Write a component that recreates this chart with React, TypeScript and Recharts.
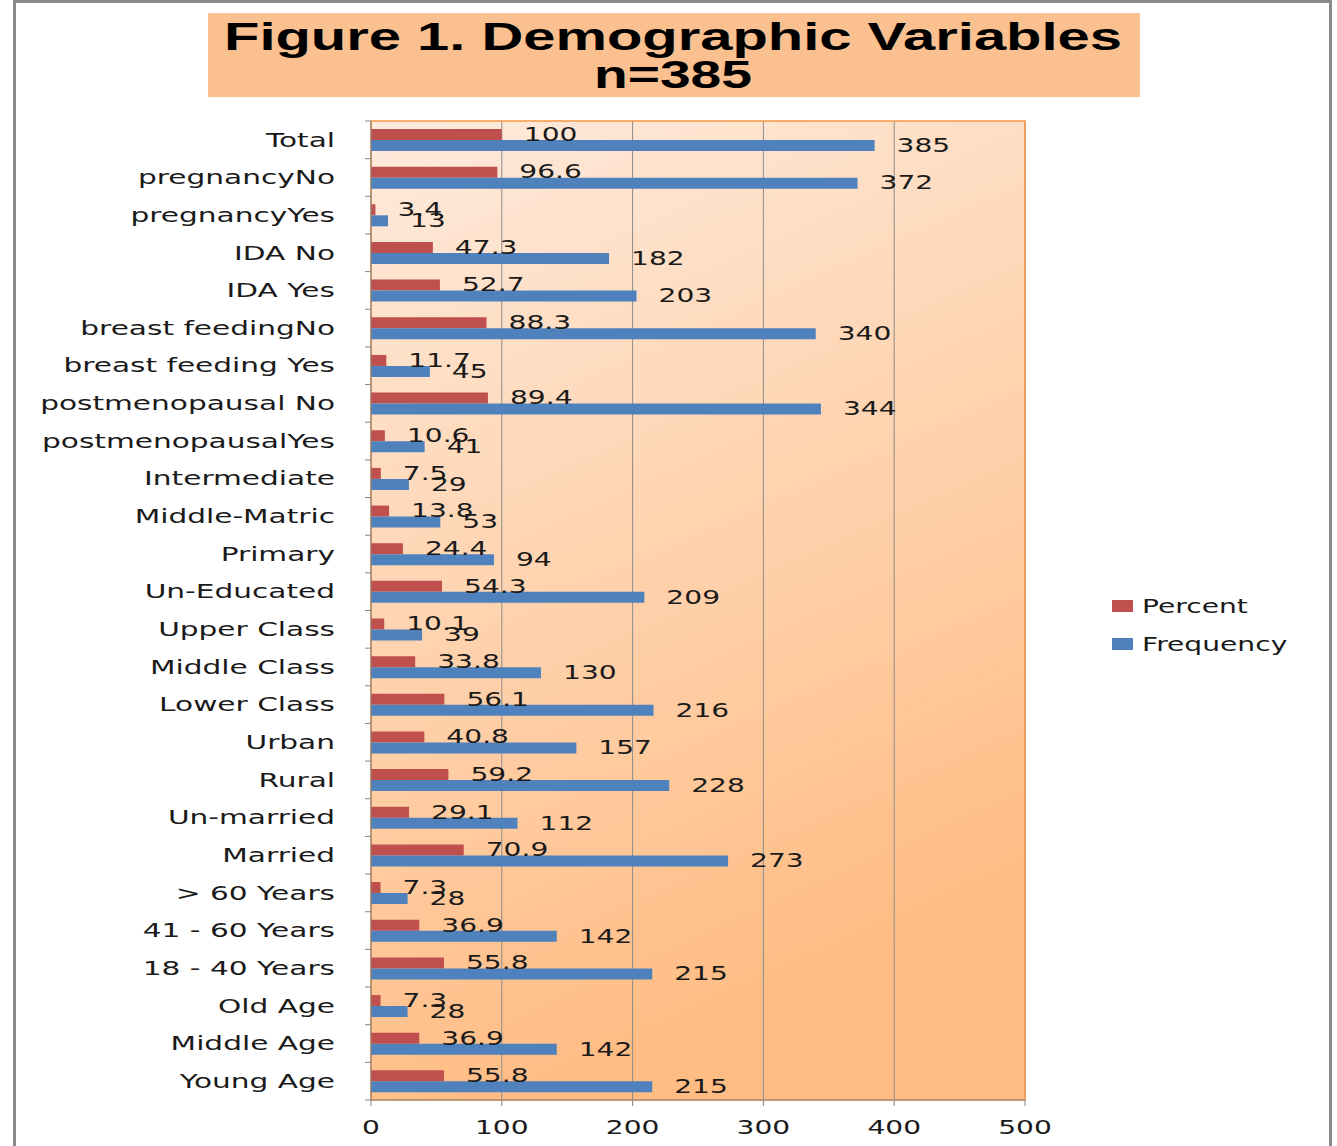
import React from 'react';
import { BarChart, Bar, XAxis, YAxis, CartesianGrid, Legend, LabelList, ReferenceArea } from 'recharts';

const categories = [
  'Total', 'pregnancyNo', 'pregnancyYes', 'IDA No', 'IDA Yes', 'breast feedingNo',
  'breast feeding  Yes', 'postmenopausal No', 'postmenopausalYes', 'Intermediate',
  'Middle-Matric', 'Primary', 'Un-Educated', 'Upper Class', 'Middle Class', 'Lower Class',
  'Urban', 'Rural', 'Un-married', 'Married', '> 60 Years', '41 - 60 Years', '18 - 40 Years',
  'Old Age', 'Middle Age', 'Young Age',
];
const percent = [
  100, 96.6, 3.4, 47.3, 52.7, 88.3, 11.7, 89.4, 10.6, 7.5, 13.8, 24.4, 54.3, 10.1, 33.8, 56.1,
  40.8, 59.2, 29.1, 70.9, 7.3, 36.9, 55.8, 7.3, 36.9, 55.8,
];
const frequency = [
  385, 372, 13, 182, 203, 340, 45, 344, 41, 29, 53, 94, 209, 39, 130, 216,
  157, 228, 112, 273, 28, 142, 215, 28, 142, 215,
];
const xTicks = [0, 100, 200, 300, 400, 500];
const legendOrder = ['Percent', 'Frequency'];

const data = categories.map((name, i) => ({ name, Percent: percent[i], Frequency: frequency[i] }));

const FONT = 'DejaVu Sans, Verdana, sans-serif';
const SX = 1.48;
const PLOT_TOP = 121;
const PLOT_BOTTOM = 1100;
const BAND = (PLOT_BOTTOM - PLOT_TOP) / categories.length;

const YTick = (props: any) => {
  const { x, y, payload, index } = props;
  const axisX = 371;
  return (
    <g>
      <line x1={axisX - 6} x2={axisX} y1={y - BAND / 2} y2={y - BAND / 2} stroke="#868686" />
      {index === categories.length - 1 && (
        <line x1={axisX - 6} x2={axisX} y1={y + BAND / 2} y2={y + BAND / 2} stroke="#868686" />
      )}
      <text
        transform={`translate(${x},${y}) scale(${SX},1)`}
        textAnchor="end"
        dominantBaseline="central"
        fontFamily={FONT}
        fontSize={20}
        fill="#1a1a1a"
      >
        {payload.value}
      </text>
    </g>
  );
};

const XTick = (props: any) => {
  const { x, y, payload } = props;
  return (
    <text
      transform={`translate(${x},${y + 20}) scale(${SX},1)`}
      textAnchor="middle"
      dominantBaseline="central"
      fontFamily={FONT}
      fontSize={19}
      fill="#1a1a1a"
    >
      {payload.value}
    </text>
  );
};

const ValueLabel = (props: any) => {
  const { x, y, width, height, value } = props;
  return (
    <text
      transform={`translate(${x + width + 22},${y + height / 2}) scale(${SX},1)`}
      textAnchor="start"
      dominantBaseline="central"
      fontFamily={FONT}
      fontSize={19}
      fill="#1a1a1a"
    >
      {value}
    </text>
  );
};

const LegendBox = (props: any) => {
  const items = [...(props.payload || [])].sort(
    (a: any, b: any) => legendOrder.indexOf(a.value) - legendOrder.indexOf(b.value)
  );
  return (
    <div>
      {items.map((it: any) => (
        <div key={it.value} style={{ display: 'flex', alignItems: 'center', height: 38 }}>
          <span style={{ width: 21, height: 12, background: it.color, display: 'inline-block', marginRight: 9 }} />
          <span
            style={{
              fontFamily: FONT,
              fontSize: 19,
              color: '#1a1a1a',
              display: 'inline-block',
              transform: `scaleX(${SX})`,
              transformOrigin: 'left center',
              whiteSpace: 'nowrap',
            }}
          >
            {it.value}
          </span>
        </div>
      ))}
    </div>
  );
};

export default function App() {
  return (
    <div style={{ position: 'absolute', left: 0, top: 0, width: 1337, height: 1146, overflow: 'hidden', background: '#fff' }}>
      <div
        style={{
          position: 'absolute', left: 13, top: 0, width: 1319, height: 1200,
          border: '3px solid #8a8a8a', boxSizing: 'border-box',
        }}
      />
      <svg style={{ position: 'absolute', left: 208, top: 13 }} width={932} height={84}>
        <rect x={0} y={0} width={932} height={84} fill="#FAC090" />
        <text x={16} y={37} textLength={898} lengthAdjust="spacingAndGlyphs"
          fontFamily="Liberation Sans, Arial, sans-serif" fontWeight="bold" fontSize={38} fill="#000">
          Figure 1. Demographic  Variables
        </text>
        <text x={386} y={75} textLength={158} lengthAdjust="spacingAndGlyphs"
          fontFamily="Liberation Sans, Arial, sans-serif" fontWeight="bold" fontSize={38} fill="#000">
          n=385
        </text>
      </svg>
      <div style={{ position: 'absolute', left: 0, top: 0 }}>
        <BarChart
          width={1337}
          height={1146}
          data={data}
          layout="vertical"
          margin={{ top: PLOT_TOP, right: 92, bottom: 6, left: 11 }}
          barGap={0}
          barSize={11}
        >
          <defs>
            <linearGradient id="plotBg" x1="0" y1="0" x2="0.3" y2="1">
              <stop offset="0%" stopColor="#FEEBDD" />
              <stop offset="100%" stopColor="#FFBC83" />
            </linearGradient>
          </defs>
          <CartesianGrid horizontal={false} stroke="#8c8c8c" fill="url(#plotBg)" fillOpacity={1} />
          <ReferenceArea x1={0} x2={500} fill="none" stroke="#F79646" strokeWidth={1.5} ifOverflow="visible" />
          <XAxis
            type="number"
            domain={[0, 500]}
            ticks={xTicks}
            height={40}
            stroke="#868686"
            tickSize={6}
            tick={<XTick />}
            interval={0}
          />
          <YAxis
            type="category"
            dataKey="name"
            width={360}
            stroke="#868686"
            tickLine={false}
            tickSize={0}
            tickMargin={36}
            interval={0}
            tick={<YTick />}
          />
          <Legend
            layout="horizontal"
            verticalAlign="middle"
            align="right"
            content={<LegendBox />}
            wrapperStyle={{ left: 1112, top: 587, width: 220, height: 80 }}
          />
          <Bar dataKey="Percent" fill="#C0504D" isAnimationActive={false}>
            <LabelList dataKey="Percent" content={<ValueLabel />} />
          </Bar>
          <Bar dataKey="Frequency" fill="#4F81BD" isAnimationActive={false}>
            <LabelList dataKey="Frequency" content={<ValueLabel />} />
          </Bar>
        </BarChart>
      </div>
    </div>
  );
}
